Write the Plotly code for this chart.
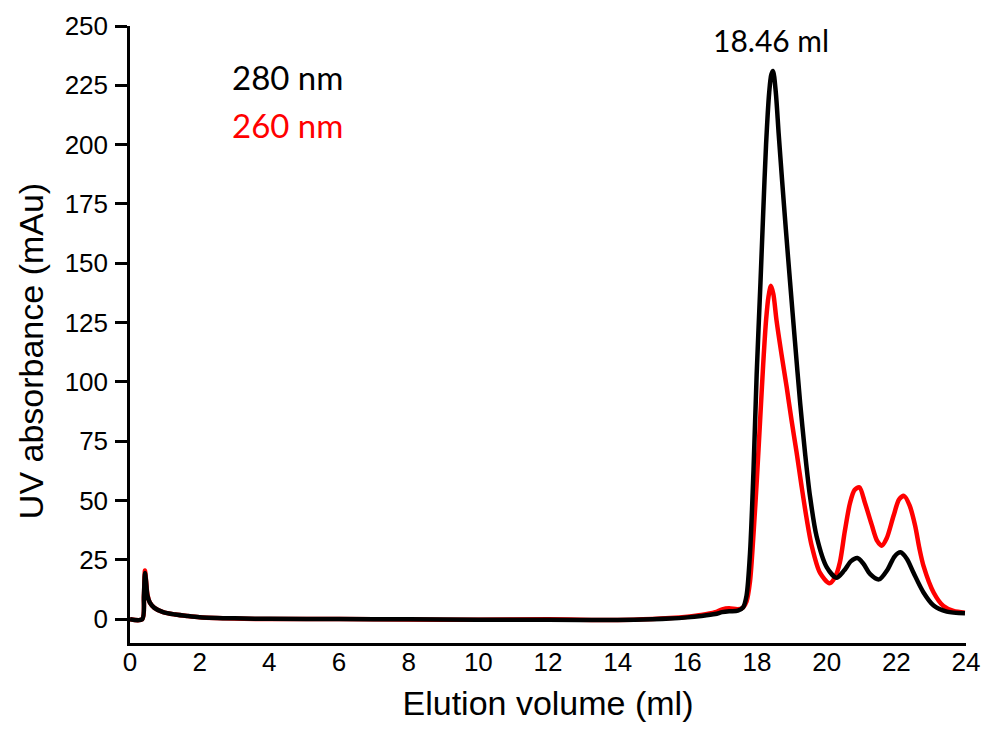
import plotly.graph_objects as go

# Elution volume (ml) and UV absorbance (mAu) of the chromatogram, 280 nm trace
vol_280 = [0, 0.35, 0.40, 0.43, 0.46, 0.50, 0.57, 0.70, 0.95, 1.30, 1.64, 2.0, 3, 4, 6, 8, 10, 12, 14,
           15, 15.5, 16, 16.4, 16.8, 17.0, 17.2, 17.45, 17.6, 17.7, 17.80, 17.90, 17.99, 18.10,
           18.18, 18.26, 18.35, 18.41, 18.46, 18.54, 18.62, 18.72, 18.83, 18.95, 19.09, 19.24,
           19.38, 19.52, 19.71, 20.0, 20.28, 20.5, 20.7, 20.88, 21.05, 21.25, 21.5, 21.75, 21.95,
           22.12, 22.3, 22.49, 22.78, 23.07, 23.45, 23.97]
abs_280 = [0, 0, 10, 19.5, 16, 10, 7, 4.8, 3, 2, 1.4, 0.9, 0.4, 0.2, 0.1, 0, -0.2, -0.2, -0.3,
           0, 0.3, 0.8, 1.4, 2.2, 3.0, 3.4, 3.6, 5.0, 10, 28, 63, 103, 142,
           172, 200, 222, 229.5, 231, 222, 205, 185, 164, 142, 117, 91,
           70, 52, 35, 22, 17.5, 20.5, 24.5, 25.8, 23.5, 19, 16.8, 21, 26.5,
           28.2, 25.5, 19.7, 11.3, 5.8, 3.2, 2.5]

# 260 nm trace
vol_260 = [0, 0.35, 0.40, 0.43, 0.46, 0.50, 0.57, 0.70, 0.95, 1.30, 1.64, 2.0, 3, 4, 6, 8, 10, 12, 14,
           15, 15.5, 16, 16.4, 16.8, 17.0, 17.2, 17.45, 17.6, 17.7, 17.80, 17.90, 18.0, 18.09, 18.18,
           18.26, 18.33, 18.40, 18.47, 18.56, 18.70, 18.85, 18.99, 19.14, 19.28, 19.43, 19.57, 19.81,
           20.08, 20.25, 20.38, 20.52, 20.67, 20.8, 20.94, 21.1, 21.29, 21.45, 21.58, 21.72, 21.92,
           22.08, 22.22, 22.38, 22.54, 22.66, 22.78, 23.07, 23.35, 23.64, 23.97]
abs_260 = [0, 0, 10, 20.5, 16.5, 10.5, 7, 4.8, 3, 2, 1.4, 0.9, 0.3, 0.1, 0.1, -0.1, -0.2, 0, -0.3,
           0.1, 0.5, 1.1, 1.8, 3.0, 4.2, 4.6, 4.2, 5.0, 7.5, 16, 36, 60, 84, 108,
           126, 136, 140.5, 137, 126, 112, 98, 84, 70, 56, 42, 31, 19.5,
           15.2, 18, 24, 37, 49, 54.5, 55.6, 49, 40, 33, 31, 34, 43.6,
           50.5, 52, 48, 39.4, 30, 22.5, 11.3, 5.6, 3.5, 2.8]

y_ticks = [0, 25, 50, 75, 100, 125, 150, 175, 200, 225, 250]
x_ticks = [0, 2, 4, 6, 8, 10, 12, 14, 16, 18, 20, 22, 24]
peak_volume = 18.46

fig = go.Figure()
fig.add_trace(go.Scatter(x=vol_260, y=abs_260, mode="lines", name="260 nm",
                         line=dict(color="#ff0000", width=4.5, shape="spline", smoothing=0.8)))
fig.add_trace(go.Scatter(x=vol_280, y=abs_280, mode="lines", name="280 nm",
                         line=dict(color="#000000", width=4.5, shape="spline", smoothing=0.8)))

label_font = "Lato, 'Open Sans', sans-serif"
axis_font = "'Liberation Sans', Arial, sans-serif"

fig.add_annotation(x=2.87, y=228.5, text="280 nm", showarrow=False, xanchor="left", yanchor="middle",
                   font=dict(family=label_font, size=33, color="#000000"))
fig.add_annotation(x=2.87, y=208.3, text="260 nm", showarrow=False, xanchor="left", yanchor="middle",
                   font=dict(family=label_font, size=33, color="#ff0000"))
fig.add_annotation(x=peak_volume - 0.05, y=244, text=f"{peak_volume:.2f} ml", showarrow=False,
                   xanchor="center", yanchor="middle",
                   font=dict(family=label_font, size=30, color="#000000"))

# y-axis title placed as a rotated label, set slightly below the axis midpoint
fig.add_annotation(xref="paper", yref="paper", x=-0.1184, y=0.473, text="UV absorbance (mAu)",
                   showarrow=False, textangle=-90, xanchor="center", yanchor="middle",
                   font=dict(family=axis_font, size=34, color="#000000"))

fig.update_layout(
    width=985, height=729,
    margin=dict(l=130, r=19, t=26, b=86),
    paper_bgcolor="white", plot_bgcolor="white",
    showlegend=False,
    font=dict(family=axis_font, color="#000000"),
    xaxis=dict(range=[0, 24], tickvals=x_ticks, showline=True, linecolor="#000000", linewidth=2.5,
               ticks="", showgrid=False, zeroline=False, tickfont=dict(size=26),
               ticklabelstandoff=-6, automargin=False,
               title=dict(text="Elution volume (ml)", font=dict(size=34), standoff=16)),
    yaxis=dict(range=[-10, 250], tickvals=y_ticks, showline=True, linecolor="#000000", linewidth=2.5,
               ticks="outside", ticklen=12, tickwidth=2.5, tickcolor="#000000",
               showgrid=False, zeroline=False, tickfont=dict(size=26),
               ticklabelstandoff=2, automargin=False),
)

fig.write_html("out.html")
